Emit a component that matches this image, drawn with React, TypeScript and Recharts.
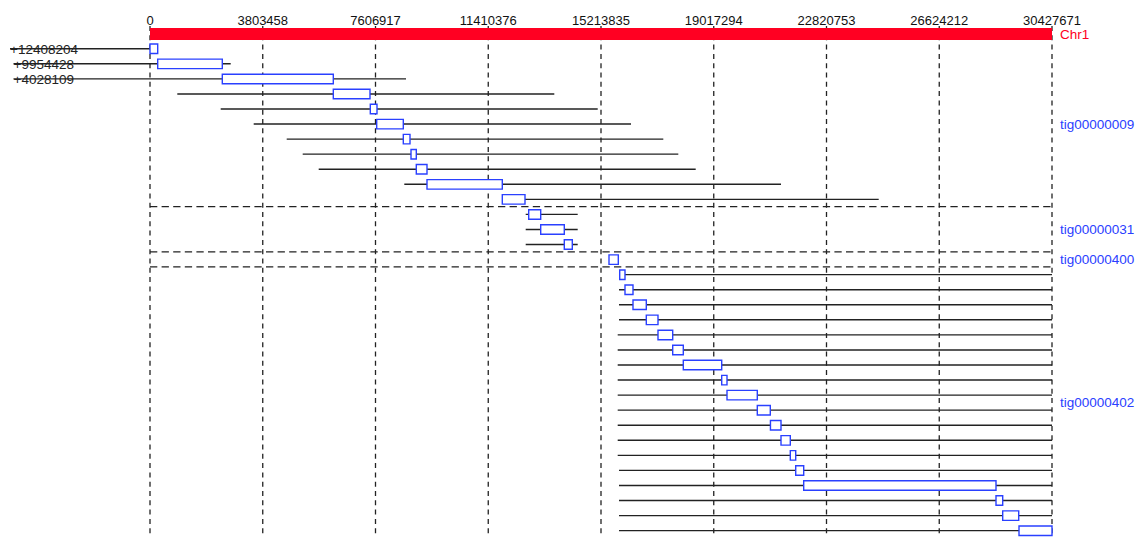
import { BarChart, Bar, XAxis, YAxis, CartesianGrid, ReferenceLine, LabelList } from 'recharts';

const CHROM = 'Chr1';
const CHROM_LEN = 30427671;
const ticks = [0, 3803458, 7606917, 11410376, 15213835, 19017294, 22820753, 26624212, 30427671];

// contigs and how many alignment rows each one has, top to bottom
const contigs = ['tig00000009', 'tig00000031', 'tig00000400', 'tig00000402'];
const groupSizes = [11, 3, 1, 18];

// offsets printed at the left of the first rows
const offsets = ['+12408204', '+9954428', '+4028109'];

// contig extent per row (black line)
const lineStart = [
  -4722700, -4604600, -4604600, 920900, 2385000, 3498200, 4611400, 5151100, 5690900, 8578400, 11884300,
  12673700, 12673700, 12673700,
  15483700,
  15844600, 15821000, 15821000, 15821000, 15777200, 15777200, 15777200, 15777200, 15777200, 15777200,
  15777200, 15777200, 15777200, 15821000, 15821000, 15821000, 15821000, 15821000,
];
const lineEnd = [
  0, 2722300, 8635800, 13638500, 15102500, 16225800, 17315500, 17821500, 18408400, 21285900, 24581700,
  14427800, 14427800, 14427800,
  15797400,
  30427671, 30427671, 30427671, 30427671, 30427671, 30427671, 30427671, 30427671, 30427671, 30427671,
  30427671, 30427671, 30427671, 30427671, 30427671, 30427671, 30427671, 30427671,
];

// aligned block per row (blue box)
const boxStart = [
  0, 259800, 2438900, 6183400, 7431500, 7647400, 8544700, 8804500, 8983300, 9344200, 11884300,
  12774900, 13179700, 13975800,
  15483700,
  15844600, 16023400, 16293300, 16741900, 17136600, 17632600, 17990200, 19285500, 19464300, 20486400,
  20930000, 21285900, 21599700, 21781800, 22051700, 28538600, 28764600, 29314500,
];
const boxEnd = [
  259800, 2438900, 6183400, 7421400, 7657500, 8544700, 8770700, 8983300, 9344200, 11884300, 12650100,
  13179700, 13975800, 14245700,
  15797400,
  16023400, 16293300, 16741900, 17136600, 17632600, 17990200, 19285500, 19464300, 20486400, 20924900,
  21285900, 21599700, 21781800, 22051700, 28538600, 28764600, 29304300, 30427671,
];

const data = [
  { row: 'r0', chr: [0, CHROM_LEN], chrName: CHROM },
  ...lineStart.map((s, i) => ({
    row: `r${i + 1}`,
    line: [s, lineEnd[i]],
    box: [boxStart[i], boxEnd[i]],
    tag: offsets[i],
  })),
];

const groups: { name: string; first: string; mid: string; pos: 'middle' | 'end' }[] = [];
let next = 1;
groupSizes.forEach((n, gi) => {
  groups.push({
    name: contigs[gi],
    first: `r${next}`,
    mid: `r${next + Math.floor((n - 1) / 2)}`,
    pos: n % 2 ? 'middle' : 'end',
  });
  next += n;
});

const FONT = '"Liberation Sans", Arial, sans-serif';
const BLUE = '#2a40ff';
const RED = '#ff0022';

export default function App() {
  return (
    <div>
      <style>{'body{margin:0;overflow:hidden}'}</style>
      <BarChart
        width={1141}
        height={539}
        data={data}
        layout="vertical"
        margin={{ top: 0, right: 89, bottom: 1, left: 10 }}
      >
        <CartesianGrid
          yAxisId="line"
          horizontal={false}
          syncWithTicks
          strokeDasharray="5 4.3"
          stroke="#222"
          strokeWidth={1.3}
        />
        <XAxis
          type="number"
          orientation="top"
          domain={['dataMin', CHROM_LEN]}
          ticks={ticks}
          interval={0}
          height={26}
          tickSize={0}
          tickMargin={1}
          axisLine={false}
          tickLine={false}
          tick={{ fontSize: 13, fill: '#111', fontFamily: FONT }}
        />
        <YAxis yAxisId="line" type="category" dataKey="row" hide />
        <YAxis yAxisId="box" type="category" dataKey="row" hide />
        <YAxis yAxisId="chr" type="category" dataKey="row" hide />

        <Bar yAxisId="chr" dataKey="chr" barSize={12} fill={RED} isAnimationActive={false}>
          <LabelList dataKey="chrName" position="right" offset={8} fill={RED} fontSize={13.5} fontFamily={FONT} />
        </Bar>
        <Bar yAxisId="line" dataKey="line" barSize={1.4} fill="#222" isAnimationActive={false}>
          <LabelList dataKey="tag" position="insideLeft" offset={0} fill="#222" fontSize={13.5} fontFamily={FONT} />
        </Bar>
        <Bar
          yAxisId="box"
          dataKey="box"
          barSize={9.5}
          fill="#fff"
          stroke={BLUE}
          strokeWidth={1.4}
          isAnimationActive={false}
        />

        {groups.slice(1).map((g) => (
          <ReferenceLine
            key={`sep-${g.name}`}
            yAxisId="line"
            segment={[{ x: 0, y: g.first }, { x: CHROM_LEN, y: g.first }]}
            position="start"
            stroke="#222"
            strokeWidth={1.3}
            strokeDasharray="7.3 4.3"
          />
        ))}
        {groups.map((g) => (
          <ReferenceLine
            key={`lab-${g.name}`}
            yAxisId="line"
            y={g.mid}
            position={g.pos}
            stroke="none"
            label={{ value: g.name, position: 'right', offset: 8, fill: BLUE, fontSize: 13.5, fontFamily: FONT }}
          />
        ))}
      </BarChart>
    </div>
  );
}
